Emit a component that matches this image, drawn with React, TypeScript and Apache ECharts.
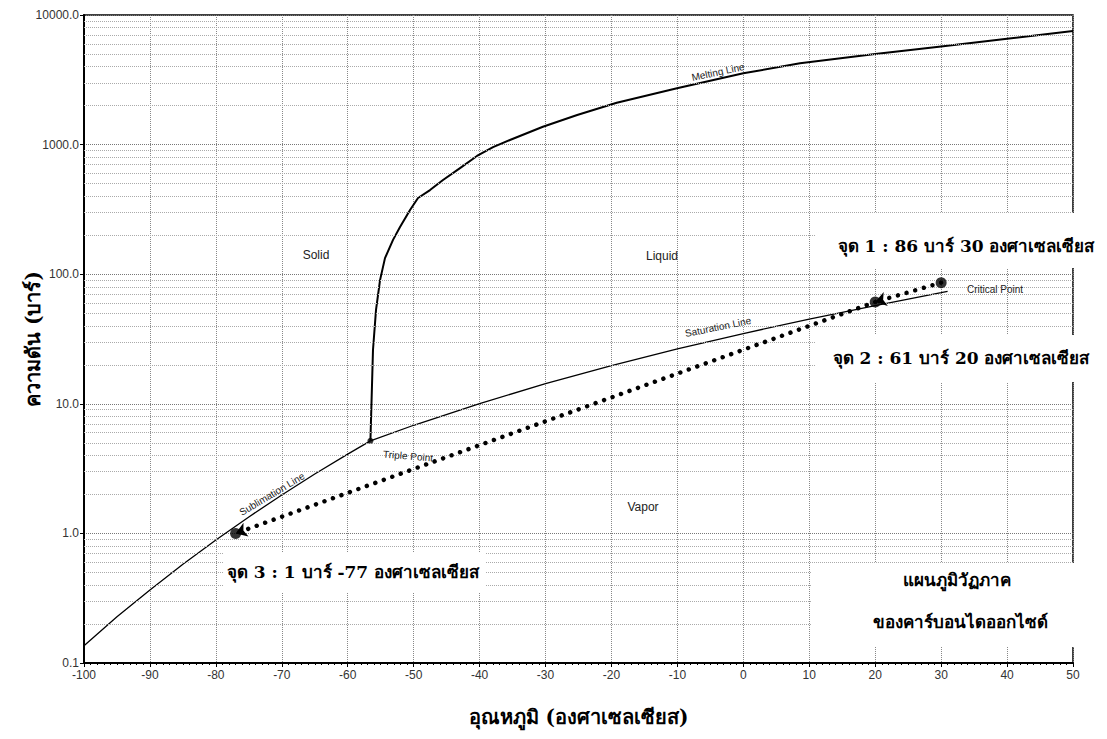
import React, { useEffect, useRef } from 'react';
import * as echarts from 'echarts';

// Temperatures (°C) and pressures (bar)
const sublimationT = [-100, -95, -90, -85, -80, -75, -70, -65, -60, -56.56];
const sublimationP = [0.136, 0.227, 0.366, 0.578, 0.89, 1.34, 1.98, 2.87, 4.09, 5.18];

const saturationT = [-56.56, -50, -40, -30, -20, -10, 0, 10, 20, 25, 30, 30.98];
const saturationP = [5.18, 6.83, 10.05, 14.28, 19.7, 26.49, 34.85, 45.02, 57.29, 64.3, 72.1, 73.8];

const meltingT = [-56.56, -56.4, -56.17, -55.71, -55.1, -54.35, -53.13, -52.07, -50.55, -49.34, -47.52, -45.55, -42.97, -40.4, -37.96, -35.4, -30.4, -25.2, -19.2, -10.06, 0, 8.6, 20, 30, 40, 50];
const meltingP = [5.18, 10, 26, 53, 90, 133, 184, 231, 313, 387, 446, 533, 659, 817, 957, 1085, 1374, 1692, 2105, 2718, 3548, 4238, 5000, 5715, 6550, 7525];

const triplePoint = [-56.56, 5.18];

// Points 1, 2, 3 (temperature, pressure)
const pointNames = ['จุด 1', 'จุด 2', 'จุด 3'];
const pointT = [30, 20, -77];
const pointP = [86, 61, 1];

// minor horizontal grid values of the log axis
const minorGridValues = [
  0.2, 0.3, 0.4, 0.5, 0.6, 0.7, 0.8, 0.9,
  2, 3, 4, 5, 6, 7, 8, 9,
  20, 30, 40, 50, 60, 70, 80, 90,
  200, 300, 400, 500, 600, 700, 800, 900,
  2000, 3000, 4000, 5000, 6000, 7000, 8000, 9000,
];

const xMin = -100;
const xMax = 50;
const xStep = 10;
const yMin = 0.1;
const yMax = 10000;

const xTitle = 'อุณหภูมิ (องศาเซลเซียส)';
const yTitle = 'ความดัน (บาร์)';
const note1 = 'จุด 1 : 86 บาร์ 30 องศาเซลเซียส';
const note2 = 'จุด 2 : 61 บาร์ 20 องศาเซลเซียส';
const note3 = 'จุด 3 : 1 บาร์ -77 องศาเซลเซียส';
const caption1 = 'แผนภูมิวัฏภาค';
const caption2 = 'ของคาร์บอนไดออกไซด์';

const thaiFont = '"DejaVu Serif", "Liberation Serif", serif';
const sansFont = '"Liberation Sans", Arial, sans-serif';

function zip(a: number[], b: number[]) {
  return a.map((v, i) => [v, b[i]]);
}

export default function App() {
  const ref = useRef<HTMLDivElement>(null);

  useEffect(() => {
    if (!ref.current) return;
    const chart = echarts.init(ref.current, undefined, { renderer: 'svg' });

    const pts = zip(pointT, pointP);

    const smallLabel = (text: string, x: number, y: number, rot: number, size = 10) => ({
      type: 'text',
      x,
      y,
      rotation: rot,
      z: 50,
      style: {
        text,
        font: `${size}px ${sansFont}`,
        fill: '#222',
        textAlign: 'center',
        textVerticalAlign: 'middle',
        align: 'center',
        verticalAlign: 'middle',
      },
    });

    const box = (x: number, y: number, w: number, h: number) => ({
      type: 'rect',
      z: 40,
      shape: { x, y, width: w, height: h },
      style: { fill: '#fff' },
    });

    const bigText = (text: string, x: number, y: number, size = 17) => ({
      type: 'text',
      x,
      y,
      z: 50,
      style: {
        text,
        font: `bold ${size}px ${thaiFont}`,
        fill: '#000',
        textAlign: 'center',
        textVerticalAlign: 'middle',
        align: 'center',
        verticalAlign: 'middle',
      },
    });

    const option: any = {
      animation: false,
      backgroundColor: '#fff',
      grid: {
        left: 84,
        right: 34,
        top: 15,
        bottom: 76,
        show: true,
        borderColor: '#000',
        borderWidth: 1.5,
        backgroundColor: 'transparent',
      },
      xAxis: {
        type: 'value',
        min: xMin,
        max: xMax,
        interval: xStep,
        name: xTitle,
        nameLocation: 'middle',
        nameGap: 44,
        nameTextStyle: { fontFamily: thaiFont, fontWeight: 'bold', fontSize: 20, color: '#000' },
        axisLine: { show: true, onZero: false, lineStyle: { color: '#000', width: 2 } },
        axisTick: { show: true, length: 4, lineStyle: { color: '#000', width: 1 } },
        minorTick: { show: true, splitNumber: 10, length: 2, lineStyle: { color: '#000' } },
        axisLabel: { fontFamily: sansFont, fontSize: 12, color: '#333', margin: 6 },
        splitLine: { show: true, lineStyle: { type: 'dotted', color: '#888', width: 1 } },
      },
      yAxis: {
        type: 'log',
        logBase: 10,
        min: yMin,
        max: yMax,
        name: yTitle,
        nameLocation: 'middle',
        nameRotate: 90,
        nameGap: 41,
        nameMoveOverlap: false,
        nameTextStyle: { fontFamily: thaiFont, fontWeight: 'bold', fontSize: 20, color: '#000' },
        axisLine: { show: true, onZero: false, lineStyle: { color: '#000', width: 2 } },
        axisTick: { show: true, length: 4, lineStyle: { color: '#000' } },
        axisLabel: {
          fontFamily: sansFont,
          fontSize: 12,
          color: '#333',
          margin: 5,
          formatter: (v: number) => v.toFixed(1),
        },
        splitLine: { show: true, lineStyle: { type: 'dotted', color: '#777', width: 1 } },
      },
      series: [
        {
          name: 'minor-grid',
          type: 'line',
          data: [],
          silent: true,
          z: 1,
          markLine: {
            silent: true,
            animation: false,
            symbol: ['none', 'none'],
            label: { show: false },
            emphasis: { disabled: true },
            lineStyle: { type: 'dotted', color: '#aaa', width: 1 },
            data: minorGridValues.map((v) => ({ yAxis: v })),
          },
        },
        {
          name: 'Sublimation Line',
          type: 'line',
          data: zip(sublimationT, sublimationP),
          showSymbol: false,
          lineStyle: { color: '#000', width: 1.3 },
          z: 3,
        },
        {
          name: 'Saturation Line',
          type: 'line',
          data: zip(saturationT, saturationP),
          showSymbol: false,
          lineStyle: { color: '#000', width: 1.3 },
          z: 3,
        },
        {
          name: 'Melting Line',
          type: 'line',
          data: zip(meltingT, meltingP),
          showSymbol: false,
          lineStyle: { color: '#000', width: 2, join: 'round' },
          z: 3,
        },
        {
          name: 'Triple Point',
          type: 'scatter',
          data: [triplePoint],
          symbol: 'circle',
          symbolSize: 6,
          itemStyle: { color: '#000' },
          z: 4,
        },
        {
          name: 'path',
          type: 'lines',
          coordinateSystem: 'cartesian2d',
          polyline: false,
          symbol: ['none', 'arrow'],
          symbolSize: 11,
          lineStyle: { color: '#000', width: 4.5, type: [0.01, 9], cap: 'round', opacity: 1 },
          data: [
            { coords: [pts[0], pts[1]] },
            { coords: [pts[1], pts[2]] },
          ],
          z: 5,
        },
        {
          name: 'points',
          type: 'scatter',
          data: pts.map((p, i) => ({ name: pointNames[i], value: p })),
          symbol: 'circle',
          symbolSize: 11,
          itemStyle: { color: '#000' },
          z: 6,
        },
      ],
      graphic: [
        box(815, 213, 292, 55),
        bigText(note1, 966, 246),
        box(815, 335, 292, 47),
        bigText(note2, 961, 358),
        box(224, 553, 262, 39),
        bigText(note3, 353, 572),
        box(812, 563, 295, 84),
        bigText(caption1, 957, 580),
        bigText(caption2, 960, 622),
        smallLabel('Solid', 316, 255, 0, 12),
        smallLabel('Liquid', 662, 256, 0, 12),
        smallLabel('Vapor', 643, 507, 0, 12),
        smallLabel('Melting Line', 718, 72, 0.21),
        smallLabel('Saturation Line', 718, 327, 0.2),
        smallLabel('Sublimation Line', 272, 494, 0.54),
        smallLabel('Triple Point', 408, 456, -0.08),
        smallLabel('Critical Point', 995, 289, 0),
      ],
    };

    chart.setOption(option);
    return () => chart.dispose();
  }, []);

  return (
    <div
      ref={ref}
      style={{ position: 'absolute', left: 0, top: 0, width: 1107, height: 739, background: '#fff' }}
    />
  );
}
